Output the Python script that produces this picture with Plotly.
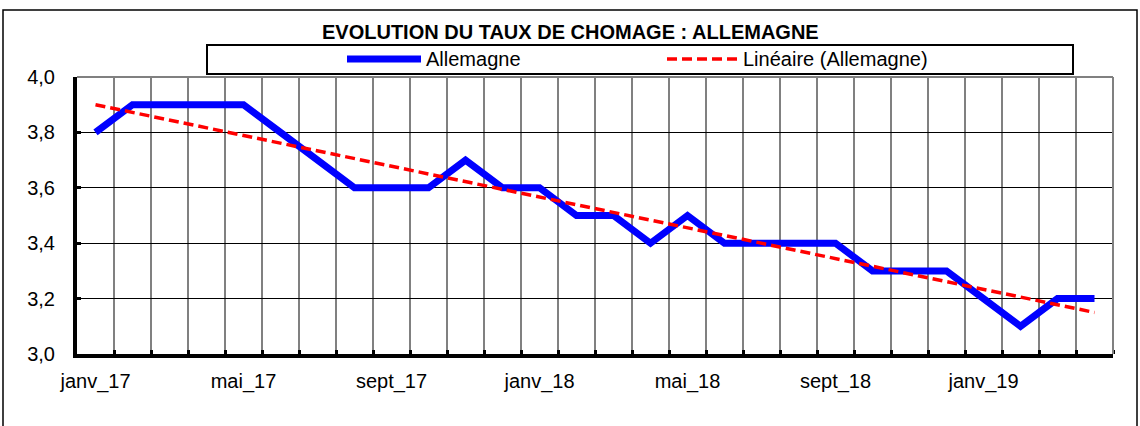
import plotly.graph_objects as go

# monthly unemployment rate, Germany, janv_17 .. avr_19
mois = ['janv_17', 'févr_17', 'mars_17', 'avr_17', 'mai_17', 'juin_17', 'juil_17',
        'août_17', 'sept_17', 'oct_17', 'nov_17', 'déc_17',
        'janv_18', 'févr_18', 'mars_18', 'avr_18', 'mai_18', 'juin_18', 'juil_18',
        'août_18', 'sept_18', 'oct_18', 'nov_18', 'déc_18',
        'janv_19', 'févr_19', 'mars_19', 'avr_19']
allemagne = [3.8, 3.9, 3.9, 3.9, 3.9, 3.8, 3.7, 3.6, 3.6, 3.6, 3.7, 3.6,
             3.6, 3.5, 3.5, 3.4, 3.5, 3.4, 3.4, 3.4, 3.4, 3.3, 3.3, 3.3,
             3.2, 3.1, 3.2, 3.2]
# linear trendline endpoints as read on the chart
tendance = [3.90, 3.15]
etiquettes = ['janv_17', 'mai_17', 'sept_17', 'janv_18', 'mai_18', 'sept_18', 'janv_19']

W, H = 1140, 426
L, R, T, B = 77, 1113, 77, 354  # plot area in pixels


def px(x):
    return (x - L) / (R - L)


def py(y):
    return (B - y) / (B - T)


idx = list(range(len(mois)))
FONT = 'Arial, Liberation Sans, sans-serif'

fig = go.Figure()
fig.add_trace(go.Scatter(
    x=idx, y=allemagne, mode='lines', name='Allemagne',
    line=dict(color='#0000ff', width=7), showlegend=False))
fig.add_trace(go.Scatter(
    x=[idx[0], idx[-1]], y=tendance, mode='lines', name='Linéaire (Allemagne)',
    line=dict(color='#ff0000', width=3.5, dash='10px,5px'), showlegend=False))

shapes = [
    # outer frame
    dict(type='rect', xref='paper', yref='paper', x0=px(3), x1=px(1137), y0=py(440), y1=py(10),
         line=dict(color='black', width=1.5), layer='below'),
    # top / right border of plot area
    dict(type='line', xref='paper', yref='paper', x0=0, x1=1, y0=1, y1=1,
         line=dict(color='#808080', width=2)),
    dict(type='line', xref='paper', yref='paper', x0=1, x1=1, y0=0, y1=1,
         line=dict(color='#808080', width=2)),
    # legend box
    dict(type='rect', xref='paper', yref='paper', x0=px(207), x1=px(1073), y0=py(74), y1=py(45),
         line=dict(color='black', width=2), fillcolor='white'),
    dict(type='line', xref='paper', yref='paper', x0=px(347), x1=px(421), y0=py(59), y1=py(59),
         line=dict(color='#0000ff', width=7)),
    dict(type='line', xref='paper', yref='paper', x0=px(667), x1=px(737), y0=py(59), y1=py(59),
         line=dict(color='#ff0000', width=3.5, dash='10px,5px')),
]

annotations = [
    dict(text='<b>EVOLUTION DU TAUX DE CHOMAGE : ALLEMAGNE</b>', xref='paper', yref='paper',
         x=px(570), y=py(32), showarrow=False, xanchor='center', yanchor='middle',
         font=dict(size=20, color='black', family=FONT)),
    dict(text='Allemagne', xref='paper', yref='paper', x=px(424), y=py(59),
         showarrow=False, xanchor='left', yanchor='middle',
         font=dict(size=20, color='black', family=FONT)),
    dict(text='Linéaire (Allemagne)', xref='paper', yref='paper', x=px(741), y=py(59),
         showarrow=False, xanchor='left', yanchor='middle',
         font=dict(size=20, color='black', family=FONT)),
]

fig.update_layout(
    width=W, height=H,
    margin=dict(l=L, r=W - R, t=T, b=H - B, pad=0),
    paper_bgcolor='white', plot_bgcolor='white',
    separators=', ',
    font=dict(family=FONT, size=20, color='black'),
    showlegend=False,
    shapes=shapes,
    annotations=annotations,
    xaxis=dict(
        range=[-0.5, len(mois) - 0.5],
        tickvals=[mois.index(e) for e in etiquettes], ticktext=etiquettes,
        ticks='', showgrid=False, zeroline=False,
        showline=True, linecolor='black', linewidth=4,
        ticklabelstandoff=6,
        minor=dict(tickvals=[i + 0.5 for i in idx], ticks='inside', ticklen=4,
                   tickwidth=3, tickcolor='black',
                   showgrid=True, gridcolor='#808080', gridwidth=2),
        fixedrange=True,
    ),
    yaxis=dict(
        range=[3.0, 4.0], dtick=0.2, tick0=3.0, tickformat='.1f',
        ticks='inside', ticklen=4, tickwidth=3, tickcolor='black',
        showgrid=True, gridcolor='black', gridwidth=1, zeroline=False,
        showline=True, linecolor='black', linewidth=4,
        ticklabelstandoff=14,
        fixedrange=True,
    ),
)

fig.write_html('out.html', config={'displayModeBar': False},
               post_script="document.body.style.margin='0';")
